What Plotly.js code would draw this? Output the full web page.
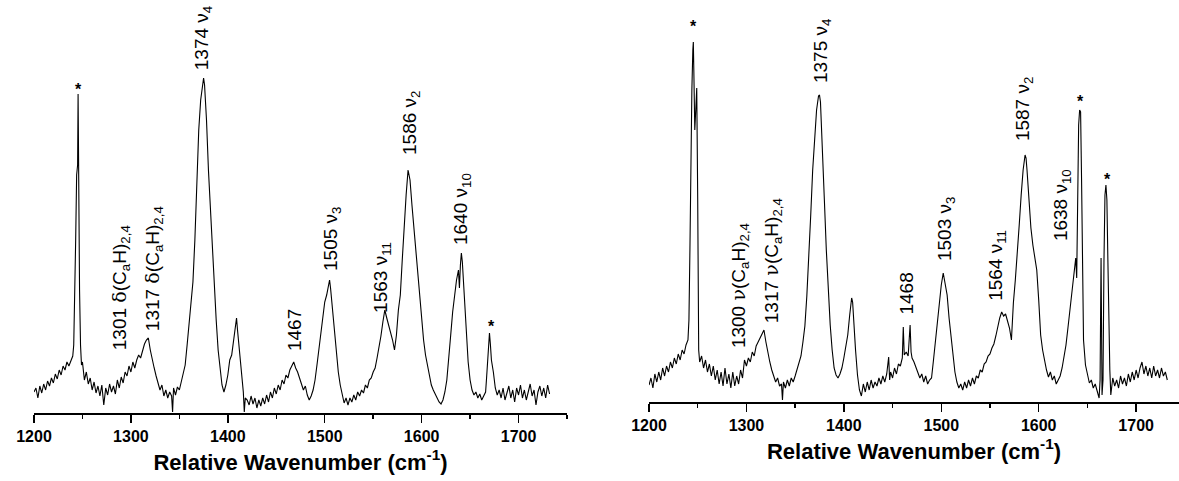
<!DOCTYPE html>
<html>
<head>
<meta charset="utf-8">
<script src="https://cdn.plot.ly/plotly-3.0.1.min.js"></script>
<style>
html,body{margin:0;padding:0;background:#ffffff;}
#chart{width:1179px;height:481px;}
</style>
</head>
<body>
<div id="chart"></div>
<script>
// ---------- data (intensity in arbitrary units) ----------
const leftWavenumber = [1200,1202,1204,1206,1208,1210,1212,1214,1216,1218,1220,1222,1224,1226,1228,1230,1232,1234,1236,1238,1240,1241,1242,1243,1244,1245,1245.5,1246,1247,1248,1249,1250,1252,1254,1256,1258,1260,1262,1264,1266,1268,1270,1272,1274,1276,1278,1280,1282,1284,1286,1288,1290,1292,1294,1296,1298,1300,1302,1304,1306,1308,1310,1312,1314,1316,1318,1320,1322,1324,1326,1328,1330,1332,1334,1336,1338,1340,1342,1343,1344,1346,1348,1350,1352,1354,1356,1358,1360,1362,1364,1366,1368,1370,1372,1374,1375,1376,1378,1380,1382,1384,1386,1388,1390,1392,1394,1396,1398,1400,1402,1404,1406,1408,1409,1410,1412,1414,1416,1417,1418,1420,1422,1424,1426,1428,1430,1432,1434,1436,1438,1440,1442,1444,1446,1448,1450,1452,1454,1456,1458,1460,1462,1464,1466,1468,1470,1472,1474,1476,1478,1480,1482,1484,1486,1488,1490,1492,1494,1496,1498,1500,1502,1504,1505,1506,1508,1510,1512,1514,1516,1518,1520,1522,1524,1526,1528,1530,1532,1534,1536,1538,1540,1542,1544,1546,1548,1550,1552,1554,1556,1558,1560,1562,1564,1566,1568,1570,1572,1574,1576,1578,1580,1582,1584,1586,1587,1588,1590,1592,1594,1596,1598,1600,1602,1604,1606,1608,1610,1612,1614,1616,1618,1620,1622,1624,1626,1628,1630,1632,1634,1636,1638,1639,1640,1641,1642,1644,1646,1648,1650,1652,1654,1656,1658,1660,1662,1664,1666,1667,1668,1669,1670,1671,1672,1674,1676,1678,1680,1682,1684,1686,1688,1690,1692,1694,1696,1698,1700,1702,1704,1706,1708,1710,1712,1714,1716,1718,1720,1722,1724,1726,1728,1730,1732];
const leftIntensity = [21,25,15,27,20,29,23,32,27,35,30,39,34,43,38,47,43,51,47,53,57,68,113,173,238,248,319,213,123,68,48,51,33,41,29,35,23,31,20,27,17,28,8,25,18,29,21,27,19,33,25,36,30,41,37,47,41,51,45,53,58,55,63,69,73,75,63,53,45,37,31,23,28,17,23,15,21,17,1,25,18,26,23,31,41,48,68,91,113,131,173,233,283,313,331,335,328,293,243,203,158,123,93,63,43,28,21,28,38,53,58,73,93,95,83,63,38,21,1,15,13,8,17,9,15,5,13,7,15,9,18,11,21,15,25,19,28,23,33,29,38,35,43,47,51,45,41,35,29,23,27,18,13,17,23,33,48,65,83,98,111,118,128,133,125,103,81,58,41,28,18,10,15,8,15,11,18,13,21,17,23,20,28,25,33,35,41,45,55,65,77,91,103,95,88,81,73,63,78,103,118,153,193,218,243,238,233,208,185,168,143,115,93,73,58,48,35,28,23,18,15,11,9,13,21,33,53,78,101,118,133,143,125,148,160,151,113,75,51,33,23,18,21,15,19,13,17,21,35,51,68,80,68,53,41,25,18,23,15,25,13,21,27,15,23,11,25,18,28,15,23,13,21,29,17,23,8,21,27,17,25,15,28,19];

const rightWavenumber = [1200,1202,1204,1206,1208,1210,1212,1214,1216,1218,1220,1222,1224,1226,1228,1230,1232,1234,1236,1238,1240,1241,1242,1243,1244,1245,1245.5,1246,1247,1248,1249,1250,1251,1252,1254,1256,1258,1260,1262,1264,1266,1268,1270,1272,1274,1276,1278,1280,1282,1284,1286,1288,1290,1292,1294,1296,1298,1300,1302,1304,1306,1308,1310,1312,1314,1316,1318,1320,1322,1324,1326,1328,1330,1332,1334,1336,1337,1338,1340,1342,1344,1346,1348,1350,1352,1354,1356,1358,1360,1362,1364,1366,1368,1370,1372,1374,1375,1376,1378,1380,1382,1384,1386,1388,1390,1392,1394,1396,1398,1400,1402,1404,1406,1408,1409,1410,1412,1414,1416,1418,1420,1422,1424,1426,1428,1430,1432,1434,1436,1438,1440,1442,1444,1446,1447,1448,1450,1452,1454,1456,1458,1460,1461,1462,1464,1466,1468,1469,1470,1472,1474,1476,1478,1480,1482,1484,1486,1488,1490,1492,1494,1496,1498,1500,1502,1503,1504,1506,1508,1510,1512,1514,1516,1518,1520,1522,1524,1526,1528,1530,1532,1534,1536,1538,1540,1542,1544,1546,1548,1550,1552,1554,1556,1558,1560,1562,1564,1566,1568,1570,1572,1573,1574,1576,1578,1580,1582,1584,1586,1587,1588,1590,1592,1594,1596,1598,1600,1602,1604,1606,1608,1610,1612,1614,1616,1618,1620,1622,1624,1626,1628,1630,1632,1634,1636,1638,1639,1640,1641,1642,1643,1644,1645,1646,1648,1650,1652,1654,1656,1658,1660,1662,1663,1664,1665,1666,1667,1668,1669,1670,1671,1672,1673,1674,1676,1678,1680,1682,1684,1686,1688,1690,1692,1694,1696,1698,1700,1702,1704,1706,1708,1710,1712,1714,1716,1718,1720,1722,1724,1726,1728,1730,1732];
const rightIntensity = [17,24,14,28,20,30,22,34,26,36,30,40,34,44,38,48,42,52,48,57,62,82,152,242,312,352,360,332,272,292,314,202,52,40,46,34,42,30,38,26,36,22,32,18,30,16,34,18,28,14,30,16,26,18,32,24,42,36,44,40,50,46,56,60,64,68,72,60,48,40,32,26,20,24,16,18,2,20,14,22,16,24,20,26,32,38,46,60,76,106,142,187,232,267,292,306,307,300,257,202,152,107,77,52,34,27,24,28,34,44,54,67,87,104,100,80,52,27,12,6,18,10,20,12,22,14,20,16,24,18,26,20,28,45,22,30,24,34,28,38,36,44,75,47,50,46,77,50,44,40,34,30,24,28,20,26,18,22,24,42,62,84,102,117,129,124,120,107,84,64,50,30,20,14,18,12,20,14,22,16,24,18,26,24,32,30,38,40,46,48,54,58,66,76,84,90,86,88,82,74,62,84,99,122,147,177,207,232,247,244,232,202,174,157,144,132,102,67,52,40,32,25,30,22,26,18,22,26,34,44,57,74,92,106,124,144,124,202,277,292,290,222,122,62,37,26,19,22,14,18,10,4,22,144,7,22,142,207,217,202,142,72,32,7,24,16,22,14,26,18,24,16,28,20,30,22,32,24,34,40,28,36,26,34,24,36,26,32,24,34,26,30,22];

const tickWavenumbers = [1200,1300,1400,1500,1600,1700];
const tickLabels = ['1200','1300','1400','1500','1600','1700'];
const axisTitle = 'Relative Wavenumber (cm<sup>-1</sup>)';

const sym = s => '<span style="font-family:\'DejaVu Serif\',serif">' + s + '</span>';

const leftLabelText = ['1301 ' + sym('δ') + '(C<sub>a</sub>H)<sub>2,4</sub>', '1317 ' + sym('δ') + '(C<sub>a</sub>H)<sub>2,4</sub>', '1374 ν<sub>4</sub>', '1467', '1505 ν<sub>3</sub>', '1563 ν<sub>11</sub>', '1586 ν<sub>2</sub>', '1640 ν<sub>10</sub>'];
const leftLabelWavenumber = [1289.5, 1323.5, 1374.6, 1468.3, 1507.5, 1558.5, 1589, 1641.7];
const leftLabelIntensity = [61, 80, 341, 60, 140, 98, 256, 166];
const leftStarWavenumber = [1245.4, 1671.6];
const leftStarIntensity = [328, 91];

const rightLabelText = ['1300 ' + sym('ν') + '(C<sub>a</sub>H)<sub>2,4</sub>', '1317 ' + sym('ν') + '(C<sub>a</sub>H)<sub>2,4</sub>', '1375 ν<sub>4</sub>', '1468', '1503 ν<sub>3</sub>', '1564 ν<sub>11</sub>', '1587 ν<sub>2</sub>', '1638 ν<sub>10</sub>'];
const rightLabelWavenumber = [1293, 1327, 1377.6, 1463.3, 1504.9, 1556.5, 1585, 1624];
const rightLabelIntensity = [52, 77, 317, 85, 139, 99, 259, 159];
const rightStarWavenumber = [1245.2, 1642.5, 1670.2];
const rightStarIntensity = [380, 305, 227];

// ---------- layout ----------
const W = 1179, H = 481;
const FONT = 'Arial, "Liberation Sans", sans-serif';

function xAxis(domain, range) {
  return {
    domain: domain, range: range,
    showline: true, linecolor: '#000', linewidth: 2,
    ticks: 'outside', ticklen: 8, tickwidth: 1.5, tickcolor: '#000',
    tickvals: tickWavenumbers, ticktext: tickLabels,
    tickfont: {family: FONT, size: 16, color: '#000', weight: 'bold'},
    minor: {dtick: 50, tick0: 1200, ticks: 'outside', ticklen: 4, tickwidth: 1.5, tickcolor: '#000', showgrid: false},
    showgrid: false, zeroline: false, fixedrange: true,
    title: {text: axisTitle, font: {family: FONT, size: 22, color: '#000', weight: 'bold'}, standoff: 10}
  };
}
function yAxis(domain, range) {
  return {domain: domain, range: range, visible: false, showgrid: false, zeroline: false, fixedrange: true};
}

const annotations = [];
function addLabels(texts, xs, ys, xref, yref) {
  texts.forEach((t, i) => annotations.push({
    text: t, x: xs[i], y: ys[i], xref: xref, yref: yref,
    showarrow: false, textangle: -90, xanchor: 'center', yanchor: 'bottom',
    font: {family: FONT, size: 19, color: '#000'}
  }));
}
function addStars(xs, ys, xref, yref) {
  xs.forEach((x, i) => annotations.push({
    text: '*', x: x, y: ys[i], xref: xref, yref: yref,
    showarrow: false, xanchor: 'center', yanchor: 'middle', yshift: -4,
    font: {family: FONT, size: 16, color: '#000', weight: 'bold'}
  }));
}
addLabels(leftLabelText, leftLabelWavenumber, leftLabelIntensity, 'x', 'y');
addStars(leftStarWavenumber, leftStarIntensity, 'x', 'y');
addLabels(rightLabelText, rightLabelWavenumber, rightLabelIntensity, 'x2', 'y2');
addStars(rightStarWavenumber, rightStarIntensity, 'x2', 'y2');

const lineStyle = {color: '#000', width: 1.1};
const traces = [
  {x: leftWavenumber, y: leftIntensity, xaxis: 'x', yaxis: 'y', type: 'scatter', mode: 'lines', line: lineStyle, hoverinfo: 'skip'},
  {x: rightWavenumber, y: rightIntensity, xaxis: 'x2', yaxis: 'y2', type: 'scatter', mode: 'lines', line: lineStyle, hoverinfo: 'skip'}
];

const layout = {
  width: W, height: H,
  margin: {l: 0, r: 0, t: 0, b: 0, pad: 0},
  paper_bgcolor: '#ffffff', plot_bgcolor: 'rgba(0,0,0,0)',
  showlegend: false,
  xaxis: xAxis([34 / W, 567 / W], [1200, 1750]),
  yaxis: yAxis([1 - 413 / H, 1], [0, 413]),
  xaxis2: xAxis([649 / W, 1], [1200, 1744]),
  yaxis2: yAxis([1 - 402 / H, 1], [0, 402]),
  annotations: annotations
};
layout.xaxis.anchor = 'y';
layout.yaxis.anchor = 'x';
layout.xaxis2.anchor = 'y2';
layout.yaxis2.anchor = 'x2';

Plotly.newPlot('chart', traces, layout, {displayModeBar: false, staticPlot: true});
</script>
</body>
</html>
